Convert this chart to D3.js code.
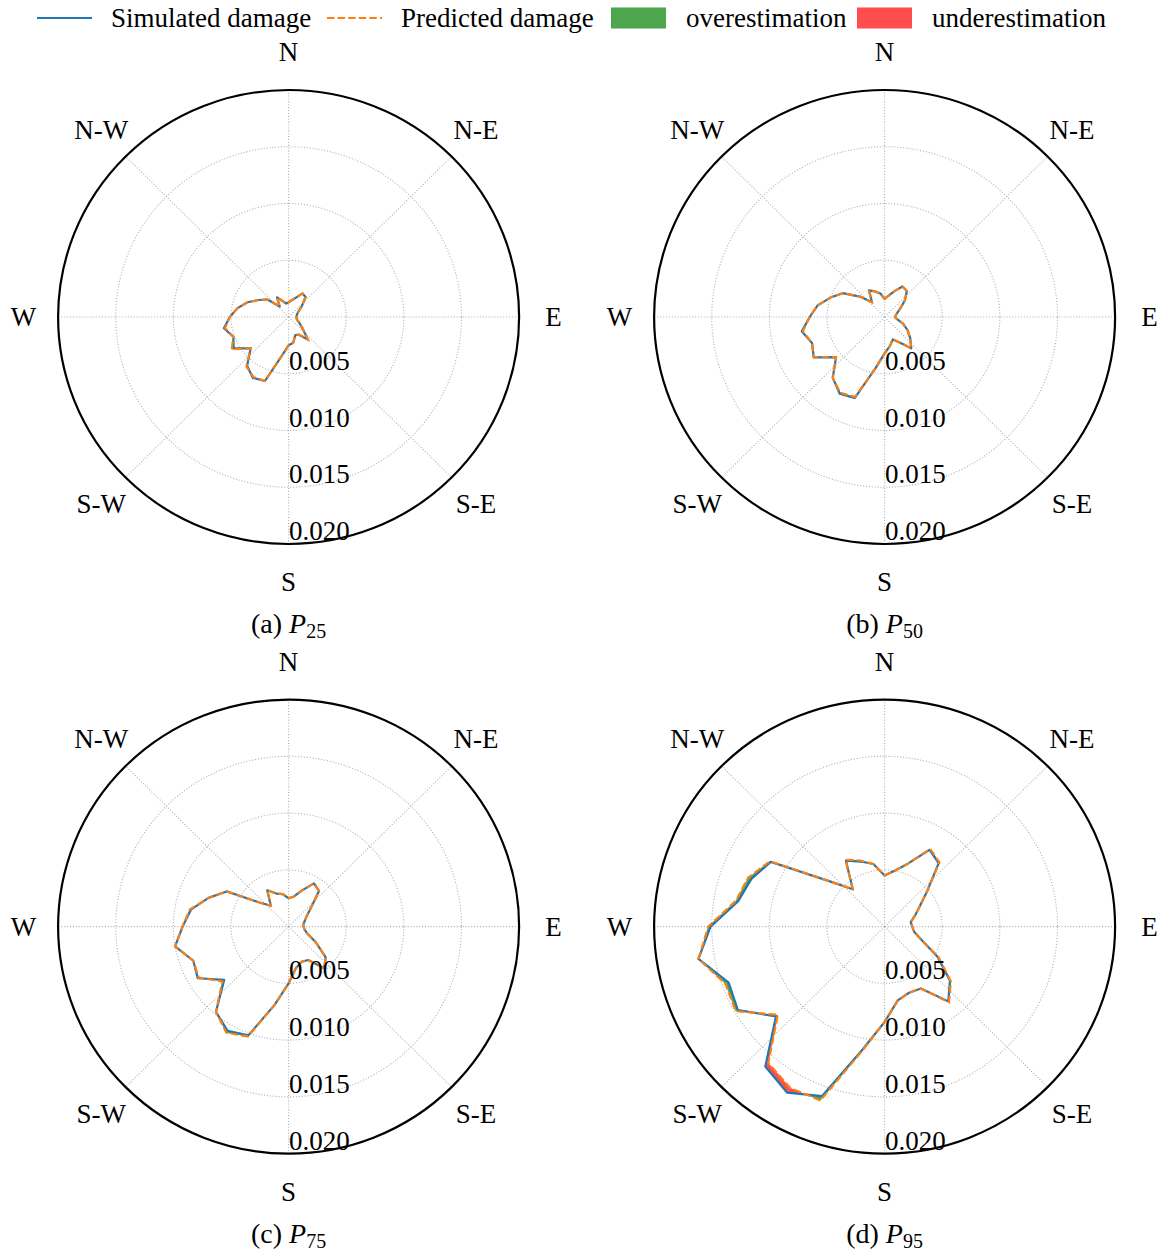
<!DOCTYPE html>
<html><head><meta charset="utf-8">
<script src="https://cdn.jsdelivr.net/npm/d3@7"></script>
<style>
body{margin:0;background:#fff}
svg{display:block}
text{font-family:"Liberation Serif","DejaVu Serif",serif;fill:#000}
</style>
</head><body>
<svg id="chart" width="1163" height="1252"></svg>
<script>
// ---------------- data ----------------
const directions = [0,10,20,30,40,50,60,70,80,90,100,110,120,130,140,150,160,170,
                    180,190,200,210,220,230,240,250,260,270,280,290,300,310,320,330,340,350];
const compassLabels = ["N","N-E","E","S-E","S","S-W","W","N-W"];
const compassAngles = [0,45,90,135,180,225,270,315];
const radialTicks = [0.005,0.010,0.015,0.020];
const radialTickLabels = ["0.005","0.010","0.015","0.020"];
const panelLetters = ["(a)","(b)","(c)","(d)"];
const percentiles = ["25","50","75","95"];
const legendLabels = ["Simulated damage","Predicted damage","overestimation","underestimation"];

const sim25  = [0.0013,0.0015,0.0018,0.0024,0.0023,0.0015,0.0010,0.0008,0.0007,0.0007,0.0007,0.0008,
                0.0011,0.0016,0.0026,0.0018,0.0017,0.0023,0.0025,0.0035,0.0060,0.0062,0.0056,0.0043,
                0.0055,0.0051,0.0057,0.0051,0.0045,0.0038,0.0030,0.0024,0.0012,0.0020,0.0015,0.0012];
const pred25 = [0.0013,0.0015,0.0018,0.0024,0.0023,0.0015,0.0010,0.0008,0.0007,0.0007,0.0007,0.0008,
                0.0011,0.0016,0.0026,0.0018,0.0017,0.0023,0.0025,0.0035,0.0060,0.0061,0.0057,0.0043,
                0.0057,0.0051,0.0056,0.0051,0.0045,0.0038,0.0030,0.0024,0.0012,0.0020,0.0015,0.0012];

const sim50  = [0.0016,0.0019,0.0024,0.0031,0.0030,0.0023,0.0016,0.0012,0.0010,0.0009,0.0011,0.0017,
                0.0023,0.0029,0.0036,0.0026,0.0021,0.0026,0.0032,0.0046,0.0076,0.0078,0.0070,0.0055,
                0.0071,0.0067,0.0073,0.0065,0.0059,0.0050,0.0042,0.0028,0.0017,0.0027,0.0024,0.0021];
const pred50 = [0.0016,0.0019,0.0024,0.0031,0.0030,0.0023,0.0016,0.0012,0.0010,0.0009,0.0011,0.0017,
                0.0023,0.0029,0.0036,0.0026,0.0021,0.0026,0.0032,0.0046,0.0075,0.0077,0.0070,0.0055,
                0.0071,0.0067,0.0072,0.0065,0.0059,0.0050,0.0042,0.0028,0.0017,0.0027,0.0024,0.0021];

const sim75  = [0.0025,0.0027,0.0034,0.0044,0.0041,0.0025,0.0018,0.0015,0.0013,0.0013,0.0014,0.0017,
                0.0027,0.0042,0.0048,0.0034,0.0033,0.0037,0.0050,0.0070,0.0102,0.0106,0.0098,0.0073,
                0.0091,0.0088,0.0100,0.0092,0.0086,0.0074,0.0062,0.0033,0.0024,0.0037,0.0031,0.0029];
const pred75 = [0.0025,0.0027,0.0034,0.0044,0.0041,0.0025,0.0018,0.0015,0.0013,0.0013,0.0014,0.0017,
                0.0027,0.0042,0.0048,0.0034,0.0033,0.0037,0.0050,0.0070,0.0103,0.0108,0.0098,0.0075,
                0.0090,0.0088,0.0100,0.0092,0.0087,0.0074,0.0062,0.0033,0.0024,0.0037,0.0031,0.0029];

const sim95  = [0.0045,0.0050,0.0059,0.0078,0.0073,0.0048,0.0035,0.0028,0.0023,0.0024,0.0026,0.0034,
                0.0053,0.0074,0.0086,0.0063,0.0062,0.0066,0.0084,0.0110,0.0159,0.0169,0.0161,0.0123,
                0.0147,0.0144,0.0164,0.0151,0.0129,0.0123,0.0114,0.0062,0.0043,0.0067,0.0061,0.0056];
const pred95 = [0.0045,0.0050,0.0059,0.0079,0.0074,0.0048,0.0035,0.0028,0.0023,0.0024,0.0026,0.0034,
                0.0054,0.0075,0.0087,0.0063,0.0062,0.0066,0.0084,0.0111,0.0163,0.0164,0.0157,0.0121,
                0.0149,0.0147,0.0164,0.0153,0.0131,0.0126,0.0115,0.0062,0.0043,0.0068,0.0062,0.0056];

const simSeries  = [sim25, sim50, sim75, sim95];
const predSeries = [pred25, pred50, pred75, pred95];

// ---------------- layout / style ----------------
const centers = [[288.6,317],[884.6,317],[288.6,926.6],[884.6,926.6]];
const R = 230.5, ky = 227/230.5;
const colSim = "#1f77b4", colPred = "#ff7f0e", colOver = "#4da64d", colUnder = "#ff4d4d";
const FS = 27;

const svg = d3.select("#chart");
const rScale = d3.scaleLinear().domain([0, 0.020]).range([0, R]);
const aScale = d3.scaleLinear().domain([0, 360]).range([0, 2*Math.PI]);

centers.forEach((c, k) => {
  const [cx, cy] = c;
  const g = svg.append("g");
  const pt = (deg, r) => {
    const a = aScale(deg), rr = rScale(r);
    return [cx + rr*Math.sin(a), cy - rr*Math.cos(a)*ky];
  };

  // grid circles
  radialTicks.slice(0, 3).forEach(v => {
    g.append("ellipse").attr("cx", cx).attr("cy", cy)
      .attr("rx", rScale(v)).attr("ry", rScale(v)*ky)
      .attr("fill", "none").attr("stroke", "#b4b4b4").attr("stroke-width", 1.1)
      .attr("stroke-dasharray", "1.1,1.8");
  });
  // grid spokes
  compassAngles.forEach(d => {
    const p = pt(d, 0.020);
    g.append("line").attr("x1", cx).attr("y1", cy).attr("x2", p[0]).attr("y2", p[1])
      .attr("stroke", "#b4b4b4").attr("stroke-width", 1.1).attr("stroke-dasharray", "1.1,1.8");
  });

  const sim = simSeries[k], pred = predSeries[k];
  const n = directions.length;
  // fills between the curves
  const fillG = g.append("g");
  for (let i = 0; i < n; i++) {
    const j = (i + 1) % n;
    const s0 = pt(directions[i], sim[i]), s1 = pt(directions[j], sim[j]);
    const p0 = pt(directions[i], pred[i]), p1 = pt(directions[j], pred[j]);
    const d0 = pred[i] - sim[i], d1 = pred[j] - sim[j];
    if (d0 === 0 && d1 === 0) continue;
    const col = d => d >= 0 ? colOver : colUnder;
    if ((d0 >= 0 && d1 >= 0) || (d0 <= 0 && d1 <= 0)) {
      const c0 = (d0 !== 0) ? col(d0) : col(d1);
      fillG.append("path").attr("d", "M" + [s0, s1, p1, p0].join("L") + "Z")
        .attr("fill", c0).attr("stroke", c0).attr("stroke-width", 0.3);
    } else {
      const t = d0 / (d0 - d1);
      const X = [s0[0] + (s1[0]-s0[0])*t, s0[1] + (s1[1]-s0[1])*t];
      fillG.append("path").attr("d", "M" + [s0, X, p0].join("L") + "Z").attr("fill", col(d0));
      fillG.append("path").attr("d", "M" + [X, s1, p1].join("L") + "Z").attr("fill", col(d1));
    }
  }

  const line = d3.line().curve(d3.curveLinearClosed);
  g.append("path").attr("d", line(directions.map((d, i) => pt(d, sim[i]))))
    .attr("fill", "none").attr("stroke", colSim).attr("stroke-width", 2.2).attr("stroke-linejoin", "round");
  g.append("path").attr("d", line(directions.map((d, i) => pt(d, pred[i]))))
    .attr("fill", "none").attr("stroke", colPred).attr("stroke-width", 2.2)
    .attr("stroke-dasharray", "7.4,3.2");

  // outer spine
  g.append("ellipse").attr("cx", cx).attr("cy", cy).attr("rx", R).attr("ry", R*ky)
    .attr("fill", "none").attr("stroke", "#000").attr("stroke-width", 2.2);

  // compass labels
  compassAngles.forEach((d, i) => {
    const a = aScale(d), lr = 265;
    g.append("text").attr("x", cx + lr*Math.sin(a)).attr("y", cy - lr*Math.cos(a) + 9)
      .attr("text-anchor", "middle").attr("font-size", FS).text(compassLabels[i]);
  });
  // radial tick labels
  radialTicks.forEach((v, i) => {
    g.append("text").attr("x", cx + 0.5).attr("y", cy + rScale(v)*ky - 4)
      .attr("font-size", FS).text(radialTickLabels[i]);
  });
  // caption
  const cap = g.append("text").attr("x", cx).attr("y", cy + 316).attr("text-anchor", "middle")
    .attr("font-size", 28);
  cap.append("tspan").text(panelLetters[k] + " ");
  cap.append("tspan").attr("font-style", "italic").text("P");
  cap.append("tspan").attr("font-size", 20).attr("dy", 5).text(percentiles[k]);
});

// ---------------- legend ----------------
const lg = svg.append("g");
lg.append("line").attr("x1", 37).attr("x2", 92).attr("y1", 18).attr("y2", 18)
  .attr("stroke", colSim).attr("stroke-width", 2.2);
lg.append("line").attr("x1", 327).attr("x2", 382).attr("y1", 18).attr("y2", 18)
  .attr("stroke", colPred).attr("stroke-width", 2.2).attr("stroke-dasharray", "7.4,3.2");
lg.append("rect").attr("x", 611).attr("y", 7.5).attr("width", 55).attr("height", 21).attr("fill", colOver);
lg.append("rect").attr("x", 857).attr("y", 7.5).attr("width", 55).attr("height", 21).attr("fill", colUnder);
const lx = [111, 401, 686, 932];
legendLabels.forEach((t, i) => {
  lg.append("text").attr("x", lx[i]).attr("y", 27).attr("font-size", FS).text(t);
});
</script>
</body></html>
